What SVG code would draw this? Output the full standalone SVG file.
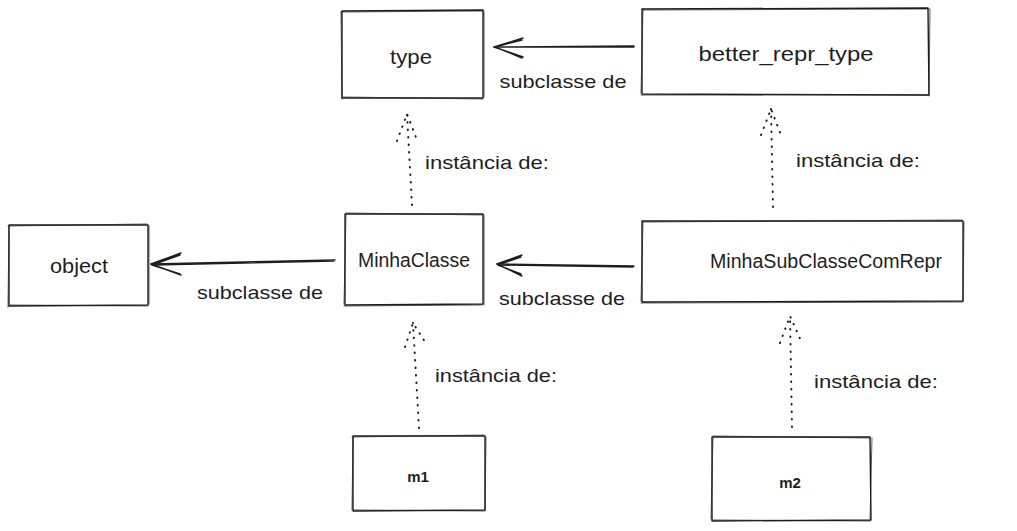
<svg xmlns="http://www.w3.org/2000/svg" width="1017" height="531" viewBox="0 0 1017 531">
  <style>
    .bg { fill: #ffffff; }
    .box { fill: none; stroke: #1e1e1e; stroke-width: 1.4; stroke-linecap: round; stroke-linejoin: round; }
    .box2 { fill: none; stroke: #1e1e1e; stroke-width: 0.9; stroke-linecap: round; opacity: 0.8; }
    .solid { fill: none; stroke: #1e1e1e; stroke-width: 1.4; stroke-linecap: round; stroke-linejoin: round; }
    .dot { fill: none; stroke: #1e1e1e; stroke-width: 2; stroke-linecap: round; stroke-dasharray: 0.5 7; }
    .lbl { font-family: "Liberation Sans", "Noto Sans", sans-serif; font-size: 19px; fill: #1e1e1e; }
    .nodet { font-family: "Liberation Sans", "Noto Sans", sans-serif; font-size: 20px; fill: #1e1e1e; }
    .small { font-family: "Liberation Sans", "Noto Sans", sans-serif; font-size: 15px; font-weight: bold; fill: #1e1e1e; }
  </style>
  <rect class="bg" x="0" y="0" width="1017" height="531"/>

  <!-- nodes: each a sketchy rectangle with a centred label -->
  <g id="node-type">
    <path class="box" d="M342 11 L483 10 L483 98 L342 98 Z"/>
    <path class="box2" d="M341 12 L482 11 M484 11 L484 97 M483 99 L343 97 M342 99 L341 12"/>
    <text class="nodet" x="411" y="57" text-anchor="middle" dominant-baseline="central" textLength="42" lengthAdjust="spacingAndGlyphs">type</text>
  </g>

  <g id="node-better_repr_type">
    <path class="box" d="M642 9 L928 8 L929 95 L642 94 Z"/>
    <path class="box2" d="M643 10 L929 9 M930 9 L929 96 M928 95 L641 95 M641 93 L643 9"/>
    <text class="nodet" x="786" y="54" text-anchor="middle" dominant-baseline="central" textLength="175" lengthAdjust="spacingAndGlyphs">better_repr_type</text>
  </g>

  <g id="node-object">
    <path class="box" d="M9 225 L148 225 L148 305 L9 306 Z"/>
    <path class="box2" d="M8 226 L147 224 M149 226 L149 304 M148 306 L10 305 M8 307 L9 226"/>
    <text class="nodet" x="79" y="266" text-anchor="middle" dominant-baseline="central" textLength="58" lengthAdjust="spacingAndGlyphs">object</text>
  </g>

  <g id="node-MinhaClasse">
    <path class="box" d="M345 214 L483 214 L483 304 L345 305 Z"/>
    <path class="box2" d="M346 213 L482 215 M484 215 L484 305 M482 305 L344 306 M344 304 L346 215"/>
    <text class="nodet" x="414" y="260" text-anchor="middle" dominant-baseline="central" textLength="112" lengthAdjust="spacingAndGlyphs">MinhaClasse</text>
  </g>

  <g id="node-MinhaSubClasseComRepr">
    <path class="box" d="M642 221 L963 221 L963 301 L642 302 Z"/>
    <path class="box2" d="M643 222 L962 220 M964 222 L963 302 M962 302 L641 303 M641 301 L643 222"/>
    <text class="nodet" x="826" y="261" text-anchor="middle" dominant-baseline="central" textLength="232" lengthAdjust="spacingAndGlyphs">MinhaSubClasseComRepr</text>
  </g>

  <g id="node-m1">
    <path class="box" d="M353 436 L485 436 L485 510 L353 511 Z"/>
    <path class="box2" d="M352 437 L484 435 M486 437 L485 511 M484 511 L354 510 M352 510 L353 437"/>
    <text class="small" x="418" y="476" text-anchor="middle" dominant-baseline="central">m1</text>
  </g>

  <g id="node-m2">
    <path class="box" d="M712 437 L870 437 L871 520 L712 521 Z"/>
    <path class="box2" d="M713 436 L870 438 M872 438 L870 520 M870 521 L713 520 M711 519 L713 438"/>
    <text class="small" x="790" y="482" text-anchor="middle" dominant-baseline="central">m2</text>
  </g>

  <!-- connectors -->
  <g id="connectors">
    <!-- subclass arrows (solid, open arrowhead) -->
    <path class="solid" d="M634 46 L494 47 M634 47 L495 47"/>
    <path class="solid" d="M523 38 L494 47 L523 57 M522 40 L495 47 L522 58"/>
    <text class="lbl" x="563" y="81" text-anchor="middle" dominant-baseline="central" textLength="127" lengthAdjust="spacingAndGlyphs">subclasse de</text>

    <path class="solid" d="M335 260 L151 264 M334 261 L152 265"/>
    <path class="solid" d="M181 253 L151 264 L181 275 M180 255 L152 265 L180 274"/>
    <text class="lbl" x="260" y="292" text-anchor="middle" dominant-baseline="central" textLength="126" lengthAdjust="spacingAndGlyphs">subclasse de</text>

    <path class="solid" d="M634 266 L497 264 M633 267 L498 265"/>
    <path class="solid" d="M522 255 L497 264 L522 276 M521 257 L498 265 L521 274"/>
    <text class="lbl" x="562" y="298" text-anchor="middle" dominant-baseline="central" textLength="126" lengthAdjust="spacingAndGlyphs">subclasse de</text>

    <!-- instance-of arrows (dotted) -->
    <path class="dot" d="M412 205 L407 114"/>
    <path class="dot" d="M397 141 L407 114 L417 140"/>
    <text class="lbl" x="487" y="162" text-anchor="middle" dominant-baseline="central" textLength="124" lengthAdjust="spacingAndGlyphs">instância de:</text>

    <path class="dot" d="M773 207 L771 109"/>
    <path class="dot" d="M761 135 L771 109 L781 135"/>
    <text class="lbl" x="858" y="160" text-anchor="middle" dominant-baseline="central" textLength="124" lengthAdjust="spacingAndGlyphs">instância de:</text>

    <path class="dot" d="M419 428 L413 323"/>
    <path class="dot" d="M405 347 L413 323 L427 345"/>
    <text class="lbl" x="496" y="375" text-anchor="middle" dominant-baseline="central" textLength="122" lengthAdjust="spacingAndGlyphs">instância de:</text>

    <path class="dot" d="M792 427 L790 316"/>
    <path class="dot" d="M780 343 L790 316 L802 343"/>
    <text class="lbl" x="876" y="381" text-anchor="middle" dominant-baseline="central" textLength="124" lengthAdjust="spacingAndGlyphs">instância de:</text>
  </g>
</svg>
